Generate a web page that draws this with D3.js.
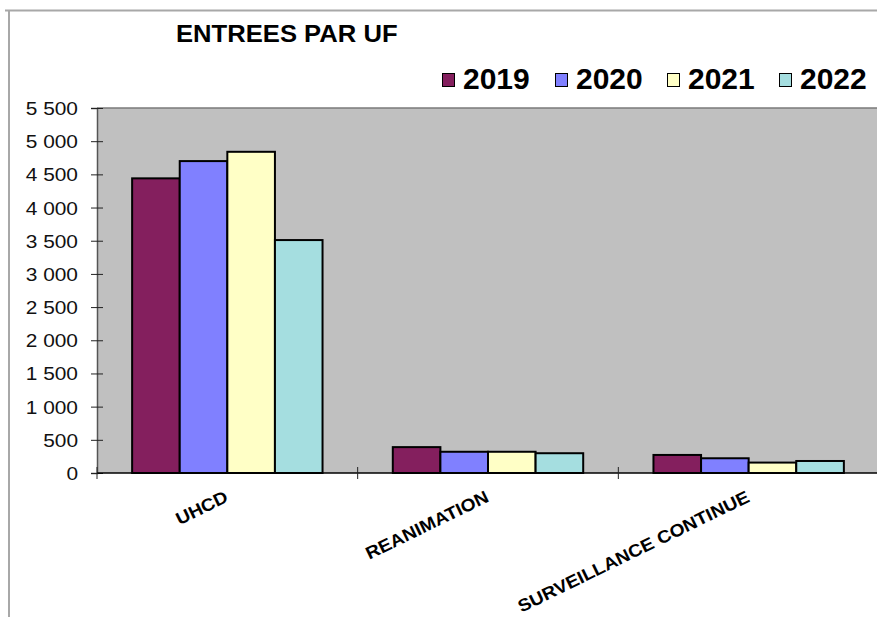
<!DOCTYPE html>
<html>
<head>
<meta charset="utf-8">
<script src="https://cdn.jsdelivr.net/npm/d3@7"></script>
<style>
  html, body { margin: 0; padding: 0; background: #fff; }
  svg { display: block; font-family: "Liberation Sans", Arial, sans-serif; }
</style>
</head>
<body>
<svg id="chart" width="877" height="617"></svg>
<script>
// Admissions per unit, by year
const categories = ["UHCD", "REANIMATION", "SURVEILLANCE CONTINUE"];
const years = ["2019", "2020", "2021", "2022"];
const values2019 = [4440, 390, 272];
const values2020 = [4700, 320, 222];
const values2021 = [4840, 320, 157];
const values2022 = [3510, 298, 181];
const yTicks = [0, 500, 1000, 1500, 2000, 2500, 3000, 3500, 4000, 4500, 5000, 5500];
const colors = ["#841F5E", "#8080FF", "#FFFFC6", "#A5DEE0"];

const series = [values2019, values2020, values2021, values2022];
const rows = categories.map((c, i) => ({ cat: c, vals: years.map((y, k) => ({ year: y, v: series[k][i], k })) }));

const svg = d3.select("#chart");
const plot = { left: 97, top: 108, right: 879, bottom: 473 };

// outer frame of the chart object
svg.append("line").attr("x1", 5).attr("x2", 877).attr("y1", 10.5).attr("y2", 10.5)
  .attr("stroke", "#a8a8a8").attr("stroke-width", 2);
svg.append("line").attr("x1", 9).attr("x2", 9).attr("y1", 10).attr("y2", 617)
  .attr("stroke", "#a8a8a8").attr("stroke-width", 2);

const x0 = d3.scaleBand().domain(categories).range([plot.left, plot.right]).padding(0);
const x1 = d3.scaleBand().domain(years).range([0, x0.bandwidth()]).paddingInner(0).paddingOuter(0.738);
const y = d3.scaleLinear().domain([0, 5500]).range([plot.bottom, plot.top]);

// plot area
svg.append("rect").attr("x", plot.left).attr("y", plot.top)
  .attr("width", plot.right - plot.left).attr("height", plot.bottom - plot.top)
  .attr("fill", "#C0C0C0");
svg.append("line").attr("x1", plot.left).attr("x2", plot.right).attr("y1", plot.top).attr("y2", plot.top)
  .attr("stroke", "#7a7a7a").attr("stroke-width", 1.5);

// bars
const groups = svg.append("g").selectAll("g").data(rows).join("g")
  .attr("transform", d => `translate(${x0(d.cat)},0)`);
groups.selectAll("rect").data(d => d.vals).join("rect")
  .attr("x", d => x1(d.year))
  .attr("y", d => y(d.v))
  .attr("width", x1.bandwidth())
  .attr("height", d => y(0) - y(d.v))
  .attr("fill", d => colors[d.k])
  .attr("stroke", "#000").attr("stroke-width", 2);

// y axis
const fmt = d3.formatLocale({ decimal: ",", thousands: " ", grouping: [3], currency: ["", " €"] }).format(",");
const yAxis = svg.append("g").attr("transform", `translate(${plot.left},0)`)
  .call(d3.axisLeft(y).tickValues(yTicks).tickSize(6).tickFormat(fmt).tickPadding(0));
yAxis.select(".domain").attr("stroke", "#555").attr("stroke-width", 1.5);
yAxis.selectAll(".tick line").attr("stroke", "#222").attr("x2", -6).attr("x1", 6);
yAxis.selectAll(".tick text")
  .attr("x", null).attr("dy", null)
  .attr("transform", "translate(-19,6.5) scale(1.13,1)")
  .attr("fill", "#111").style("font-size", "18.5px").style("font-family", "'Liberation Sans', Arial, sans-serif")
  .attr("text-anchor", "end");

// x axis
const xAxis = svg.append("g").attr("transform", `translate(0,${plot.bottom})`);
xAxis.append("line").attr("x1", plot.left).attr("x2", 877).attr("y1", 0).attr("y2", 0)
  .attr("stroke", "#000").attr("stroke-width", 1.5);
xAxis.selectAll("line.tick").data(categories).join("line").attr("class", "tick")
  .attr("x1", d => x0(d)).attr("x2", d => x0(d)).attr("y1", -6).attr("y2", 6)
  .attr("stroke", "#222").attr("stroke-width", 1);
xAxis.selectAll("text").data(categories).join("text")
  .attr("transform", d => `translate(${x0(d) + x0.bandwidth() / 2 + 2},28) rotate(-26) scale(1.1,1)`)
  .attr("text-anchor", "end")
  .style("font-size", "17.5px").style("font-weight", "bold").attr("fill", "#000")
  .text(d => d);

// title
svg.append("text").attr("transform", "translate(176,42) scale(1.09,1)")
  .style("font-size", "23.5px").style("font-weight", "bold").attr("fill", "#000")
  .text("ENTREES PAR UF");

// legend
const legendX = [442, 555, 667, 779];
const legend = svg.append("g").selectAll("g").data(years).join("g")
  .attr("transform", (d, i) => `translate(${legendX[i]},0)`);
legend.append("rect").attr("x", 0.5).attr("y", 73.5).attr("width", 12).attr("height", 13)
  .attr("fill", (d, i) => colors[i]).attr("stroke", "#000").attr("stroke-width", 1);
legend.append("text").attr("x", 21).attr("y", 89)
  .style("font-size", "30px").style("font-weight", "bold").attr("fill", "#000")
  .text(d => d);
</script>
</body>
</html>
